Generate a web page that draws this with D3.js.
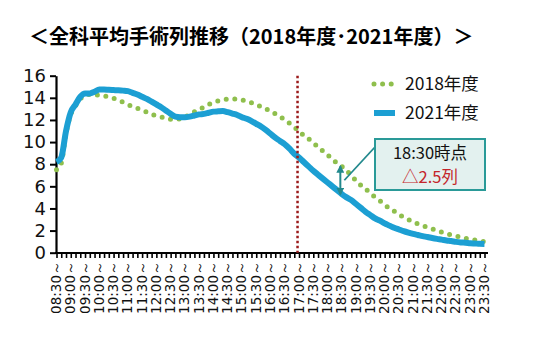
<!DOCTYPE html>
<html>
<head>
<meta charset="utf-8">
<script src="https://cdn.jsdelivr.net/npm/d3@7"></script>
<style>
  body { margin: 0; background: #fff; }
  svg { display: block; }
</style>
</head>
<body>
<svg id="chart" width="540" height="348"></svg>
<script>
// Time slots (every 10 minutes)
const categories = [
  "08:30","08:40","08:50","09:00","09:10","09:20","09:30","09:40","09:50",
  "10:00","10:10","10:20","10:30","10:40","10:50","11:00","11:10","11:20",
  "11:30","11:40","11:50","12:00","12:10","12:20","12:30","12:40","12:50",
  "13:00","13:10","13:20","13:30","13:40","13:50","14:00","14:10","14:20",
  "14:30","14:40","14:50","15:00","15:10","15:20","15:30","15:40","15:50",
  "16:00","16:10","16:20","16:30","16:40","16:50","17:00","17:10","17:20",
  "17:30","17:40","17:50","18:00","18:10","18:20","18:30","18:40","18:50",
  "19:00","19:10","19:20","19:30","19:40","19:50","20:00","20:10","20:20",
  "20:30","20:40","20:50","21:00","21:10","21:20","21:30","21:40","21:50",
  "22:00","22:10","22:20","22:30","22:40","22:50","23:00","23:10","23:20",
  "23:30"
];

// Axis labels (every 30 minutes)
const tickLabels = [
  "08:30～","09:00～","09:30～","10:00～","10:30～","11:00～","11:30～","12:00～",
  "12:30～","13:00～","13:30～","14:00～","14:30～","15:00～","15:30～","16:00～",
  "16:30～","17:00～","17:30～","18:00～","18:30～","19:00～","19:30～","20:00～",
  "20:30～","21:00～","21:30～","22:00～","22:30～","23:00～","23:30～"
];

const yTicks = [0, 2, 4, 6, 8, 10, 12, 14, 16];

// Average number of operating-room lines in use, FY2018
const values2018 = [
  7.5, 8.1, 10.8, 12.5, 13.3, 13.9, 14.2, 14.3, 14.3,
  14.2, 14.17, 14.05, 13.95, 13.8, 13.6, 13.4, 13.2, 13.05,
  12.9, 12.7, 12.5, 12.4, 12.28, 12.15, 12.06, 12.05, 12.1,
  12.25, 12.5, 12.75, 12.9, 13.2, 13.4, 13.6, 13.72, 13.82,
  13.88, 13.9, 13.9, 13.8, 13.7, 13.55, 13.4, 13.2, 13.0,
  12.8, 12.55, 12.3, 12.0, 11.7, 11.35, 11.0, 10.6, 10.3,
  9.95, 9.55, 9.2, 8.85, 8.45, 8.1, 7.8, 7.4, 7.0,
  6.5, 6.1, 5.75, 5.4, 5.0, 4.7, 4.35, 4.0, 3.75,
  3.45, 3.2, 3.0, 2.8, 2.6, 2.45, 2.3, 2.15, 2.0,
  1.85, 1.72, 1.6, 1.5, 1.4, 1.3, 1.22, 1.15, 1.08,
  1.0
];

// Average number of operating-room lines in use, FY2021
const values2021 = [
  8.2, 8.6, 11.0, 12.7, 13.4, 14.1, 14.4, 14.4, 14.55,
  14.75, 14.75, 14.72, 14.7, 14.68, 14.65, 14.6, 14.45, 14.3,
  14.1, 13.9, 13.65, 13.4, 13.15, 12.85, 12.55, 12.3, 12.25,
  12.25, 12.3, 12.4, 12.5, 12.55, 12.65, 12.75, 12.78, 12.8,
  12.7, 12.58, 12.45, 12.25, 12.1, 11.9, 11.65, 11.4, 11.1,
  10.75, 10.4, 10.1, 9.8, 9.4, 8.95, 8.6, 8.2, 7.8,
  7.4, 7.05, 6.7, 6.35, 6.0, 5.65, 5.3, 5.0, 4.75,
  4.4, 4.05, 3.7, 3.4, 3.1, 2.9, 2.65, 2.45, 2.25,
  2.1, 1.95, 1.82, 1.7, 1.6, 1.5, 1.42, 1.33, 1.25,
  1.18, 1.1, 1.05, 0.98, 0.93, 0.9, 0.86, 0.83, 0.8,
  0.78
];

const seriesNames = ["2018年度", "2021年度"];
const titleText = "＜全科平均手術列推移（2018年度･2021年度）＞";
const markerTime = "17:00";
const noteTime = "18:30";
const noteLines = ["18:30時点", "△2.5列"];

const GREEN = "#8fbf4d";
const BLUE = "#1c9fd3";
const TEAL = "#22898d";
const DARKRED = "#9b1b1b";

const svg = d3.select("#chart");

const x = d3.scalePoint().domain(categories).range([56.5, 484.5]);
const y = d3.scaleLinear().domain([0, 16]).range([252.7, 75.7]);

// Title
svg.append("text")
  .attr("x", 29).attr("y", 44)
  .attr("font-family", "'Noto Sans CJK JP', sans-serif")
  .attr("font-weight", "bold")
  .attr("font-size", 20)
  .attr("fill", "#000")
  .text(titleText);

// Y axis
const yAxis = svg.append("g")
  .attr("transform", "translate(56,0)")
  .call(d3.axisLeft(y).tickValues(yTicks).tickSize(6).tickSizeOuter(0).tickPadding(4));
yAxis.select(".domain").attr("stroke", "#000").attr("stroke-width", 2.2);
yAxis.selectAll(".tick line").attr("stroke", "#000").attr("stroke-width", 2);
yAxis.selectAll(".tick text")
  .attr("font-family", "'DejaVu Sans', Verdana, sans-serif")
  .attr("font-size", 18)
  .attr("fill", "#111");

// X axis: a tick at every slot, labels every 30 minutes
const xAxis = svg.append("g")
  .attr("transform", "translate(0,253)")
  .call(d3.axisBottom(x).tickSize(5).tickSizeOuter(0).tickFormat(""));
xAxis.select(".domain").attr("d", "M55,0H488").attr("stroke", "#000").attr("stroke-width", 2.2);
xAxis.selectAll(".tick line").attr("stroke", "#000").attr("stroke-width", 1.6);

svg.append("g")
  .selectAll("text")
  .data(tickLabels)
  .join("text")
  .attr("transform", d => `translate(${x(d.replace("～", "")) + 4.5},261) rotate(-90)`)
  .attr("text-anchor", "end")
  .attr("font-family", "'DejaVu Sans', Verdana, sans-serif")
  .attr("font-size", 13.5)
  .attr("fill", "#111")
  .text(d => d);

// Series lines
const line = d3.line()
  .x((d, i) => x(categories[i]))
  .y(d => y(d))
  .curve(d3.curveMonotoneX);

svg.append("path")
  .datum(values2018)
  .attr("d", line)
  .attr("fill", "none")
  .attr("stroke", GREEN)
  .attr("stroke-width", 5)
  .attr("stroke-linecap", "round")
  .attr("stroke-dasharray", "0 8.6");

svg.append("path")
  .datum(values2021)
  .attr("d", line)
  .attr("fill", "none")
  .attr("stroke", BLUE)
  .attr("stroke-width", 6)
  .attr("stroke-linejoin", "round");

// Vertical marker at 17:00
svg.append("line")
  .attr("x1", x(markerTime) - 1.5).attr("x2", x(markerTime) - 1.5)
  .attr("y1", y(16)).attr("y2", y(0))
  .attr("stroke", DARKRED)
  .attr("stroke-width", 2.5)
  .attr("stroke-dasharray", "2.5 2.5");

// Legend
const legend = svg.append("g");
const legendRows = [
  { name: seriesNames[0], color: GREEN, dash: "0 8.6", width: 5, ly: 84 },
  { name: seriesNames[1], color: BLUE, dash: null, width: 6, ly: 113 }
];
legendRows.forEach(r => {
  legend.append("line")
    .attr("x1", 374).attr("x2", 395)
    .attr("y1", r.ly).attr("y2", r.ly)
    .attr("stroke", r.color)
    .attr("stroke-width", r.width)
    .attr("stroke-linecap", r.dash ? "round" : "butt")
    .attr("stroke-dasharray", r.dash);
  legend.append("text")
    .attr("x", 405).attr("y", r.ly)
    .attr("dy", "0.36em")
    .attr("font-family", "'Noto Sans CJK JP', sans-serif")
    .attr("font-size", 17.5)
    .attr("fill", "#111")
    .text(r.name);
});

// Difference arrow at 18:30
const ni = categories.indexOf(noteTime);
const ax = x(noteTime) - 1.5;
const yTop = y(values2018[ni]);
const yBot = y(values2021[ni]);
const defs = svg.append("defs");
defs.append("marker")
  .attr("id", "arrowHead")
  .attr("viewBox", "0 0 10 10")
  .attr("refX", 8).attr("refY", 5)
  .attr("markerWidth", 4).attr("markerHeight", 4)
  .attr("orient", "auto-start-reverse")
  .append("path")
  .attr("d", "M0,0L10,5L0,10Z")
  .attr("fill", TEAL);

svg.append("line")
  .attr("x1", ax).attr("x2", ax)
  .attr("y1", yTop).attr("y2", yBot)
  .attr("stroke", TEAL)
  .attr("stroke-width", 2)
  .attr("marker-start", "url(#arrowHead)")
  .attr("marker-end", "url(#arrowHead)");

// Callout box
const box = { x: 375, y: 139, w: 110, h: 51 };
svg.append("line")
  .attr("x1", ax + 4).attr("y1", (yTop + yBot) / 2)
  .attr("x2", box.x).attr("y2", box.y + 8)
  .attr("stroke", TEAL)
  .attr("stroke-width", 1.8);

svg.append("rect")
  .attr("x", box.x).attr("y", box.y)
  .attr("width", box.w).attr("height", box.h)
  .attr("fill", "#e3f1ef")
  .attr("stroke", "#2a9a98")
  .attr("stroke-width", 2);

svg.append("text")
  .attr("x", box.x + box.w / 2).attr("y", box.y + 14.5)
  .attr("dy", "0.36em")
  .attr("text-anchor", "middle")
  .attr("font-family", "'Noto Sans CJK JP', sans-serif")
  .attr("font-size", 16.5)
  .attr("fill", "#111")
  .text(noteLines[0]);

svg.append("text")
  .attr("x", box.x + box.w / 2).attr("y", box.y + 38.5)
  .attr("dy", "0.36em")
  .attr("text-anchor", "middle")
  .attr("font-family", "'Noto Sans CJK JP', sans-serif")
  .attr("font-size", 16.5)
  .attr("fill", "#c4262b")
  .text(noteLines[1]);
</script>
</body>
</html>
